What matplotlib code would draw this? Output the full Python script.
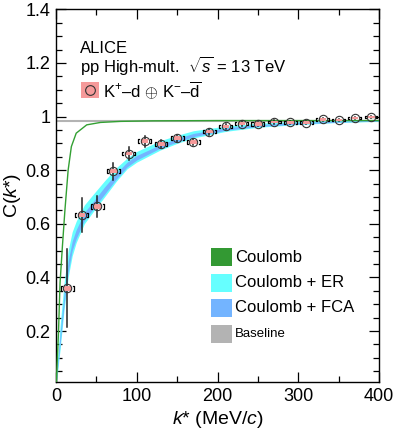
import matplotlib
matplotlib.use('Agg')
from matplotlib import pyplot as plt
from matplotlib.patches import Rectangle
import numpy as np

plt.rcParams['font.family'] = ['Liberation Sans', 'DejaVu Sans']
plt.rcParams['mathtext.fontset'] = 'custom'
plt.rcParams['mathtext.rm'] = 'Liberation Sans'
plt.rcParams['mathtext.it'] = 'Liberation Sans:italic'
plt.rcParams['mathtext.sf'] = 'Liberation Sans'

# data points K+d (+) K-dbar
kstar = [14, 32, 51, 71, 90, 110, 130, 150, 170, 190, 210, 230, 250, 270, 290, 310, 330, 350, 370, 390]
ck = [0.36, 0.632, 0.665, 0.796, 0.862, 0.908, 0.898, 0.919, 0.906, 0.943,
      0.964, 0.974, 0.972, 0.980, 0.979, 0.977, 0.989, 0.987, 0.994, 0.998]
stat = [0.145, 0.063, 0.038, 0.031, 0.023, 0.02, 0.015, 0.014, 0.012, 0.01,
        0.009, 0.008, 0.007, 0.007, 0.006, 0.006, 0.005, 0.005, 0.005, 0.005]
syst = [0.009, 0.008, 0.008, 0.008, 0.007, 0.007, 0.007, 0.007, 0.007, 0.006,
        0.006, 0.006, 0.006, 0.005, 0.005, 0.005, 0.005, 0.005, 0.005, 0.005]

# Coulomb curve
k_coul = [0, 1, 3, 5, 8, 11, 15, 19, 25, 38, 55, 80, 120, 200, 400]
c_coul = [-0.02, 0.05, 0.19, 0.38, 0.52, 0.65, 0.80, 0.888, 0.938, 0.969, 0.978, 0.982, 0.984, 0.985, 0.985]

# Coulomb + ER and Coulomb + FCA bands
k_band = [0, 2, 5, 10, 15, 20, 25, 35, 46, 60, 75, 88, 100, 129, 150, 170, 211, 250, 300, 350, 400]
er_lo = [0.0, 0.05, 0.13, 0.28, 0.40, 0.48, 0.53, 0.60, 0.645, 0.70, 0.76, 0.805, 0.83, 0.875,
         0.90, 0.92, 0.945, 0.96, 0.97, 0.978, 0.982]
er_hi = [0.0, 0.10, 0.22, 0.38, 0.50, 0.57, 0.61, 0.67, 0.71, 0.76, 0.81, 0.845, 0.87, 0.91,
         0.93, 0.947, 0.965, 0.975, 0.982, 0.986, 0.988]
fca_lo = [0.0, 0.06, 0.15, 0.30, 0.42, 0.50, 0.545, 0.612, 0.655, 0.71, 0.768, 0.812, 0.838, 0.882,
          0.905, 0.925, 0.949, 0.963, 0.972, 0.979, 0.983]
fca_hi = [0.0, 0.08, 0.19, 0.34, 0.46, 0.535, 0.578, 0.642, 0.683, 0.737, 0.79, 0.83, 0.855, 0.895,
          0.918, 0.937, 0.958, 0.97, 0.978, 0.983, 0.986]

baseline = 0.985

fig = plt.figure(figsize=(3.99, 4.45), dpi=100)
ax = fig.add_axes([0.1404, 0.1416, 0.8096, 0.8375])

ax.axhline(baseline, color='#b3b3b3', lw=1.5, zorder=1)
ax.fill_between(k_band, er_lo, er_hi, color='#66ffff', lw=0, zorder=2)
ax.fill_between(k_band, fca_lo, fca_hi, color='#73b4ff', lw=0, zorder=2)
ax.plot(k_coul, c_coul, color='#33a033', lw=1.0, zorder=3)

# data
for x, y, s, sy in zip(kstar, ck, stat, syst):
    ax.plot([x, x], [y - s, y + s], color='#222222', lw=1.1, zorder=4)
    ax.add_patch(Rectangle((x - 4.5, y - sy), 9, 2 * sy, color='#f59a9a', lw=0, zorder=5))
    for side in (-1, 1):
        xb = x + side * 8.0
        ax.plot([xb - side * 1.3, xb, xb, xb - side * 1.3], [y - sy, y - sy, y + sy, y + sy],
                color='black', lw=0.9, zorder=5)
ax.plot(kstar, ck, ls='none', marker='o', ms=6, mfc='none', mec='#333333', mew=0.8, zorder=6)

ax.set_xlim(0, 400)
ax.set_ylim(0.01, 1.4)
ax.set_xticks([0, 100, 200, 300, 400])
ax.set_xticks(np.arange(0, 401, 50), minor=True)
ax.set_yticks([0.2, 0.4, 0.6, 0.8, 1.0, 1.2, 1.4])
ax.set_yticklabels(['0.2', '0.4', '0.6', '0.8', '1', '1.2', '1.4'])
ax.set_yticks(np.arange(0.05, 1.41, 0.05), minor=True)
ax.tick_params(which='both', direction='in', top=True, right=True, labelsize=13, pad=4, width=0.9)
ax.tick_params(which='major', length=7)
ax.tick_params(which='minor', length=4)
for sp in ax.spines.values():
    sp.set_linewidth(1.0)

ax.set_xlabel(r'$k$* (MeV/$c$)', fontsize=14, labelpad=3)
ax.set_ylabel(r'$\mathrm{C}$($k$*)', fontsize=14, labelpad=2)

ax.text(0.074, 0.896, 'ALICE', transform=ax.transAxes, fontsize=12, va='center')
ax.text(0.074, 0.848, r'pp High-mult.  $\sqrt{s}$ = 13 TeV', transform=ax.transAxes, fontsize=12, va='center')
ax.add_patch(Rectangle((0.077, 0.762), 0.056, 0.043, transform=ax.transAxes, color='#f59a9a', lw=0))
ax.plot([0.105], [0.783], transform=ax.transAxes, marker='o', ms=7, mfc='none', mec='#333333', mew=0.8)
ax.text(0.146, 0.783, r'K$^{+}$–d $\oplus$ K$^{-}$–$\overline{\mathrm{d}}$', transform=ax.transAxes,
        fontsize=12, va='center')

# legend for the curves
leg_items = [('Coulomb', '#339933', 0.335, 12), ('Coulomb + ER', '#66ffff', 0.266, 12),
             ('Coulomb + FCA', '#73b4ff', 0.199, 12), ('Baseline', '#b3b3b3', 0.129, 9.5)]
for name, col, yc, fs in leg_items:
    ax.add_patch(Rectangle((0.48, yc - 0.024), 0.064, 0.048, transform=ax.transAxes, color=col, lw=0))
    ax.text(0.555, yc, name, transform=ax.transAxes, fontsize=fs, va='center')

fig.savefig('out.png', dpi=100)
